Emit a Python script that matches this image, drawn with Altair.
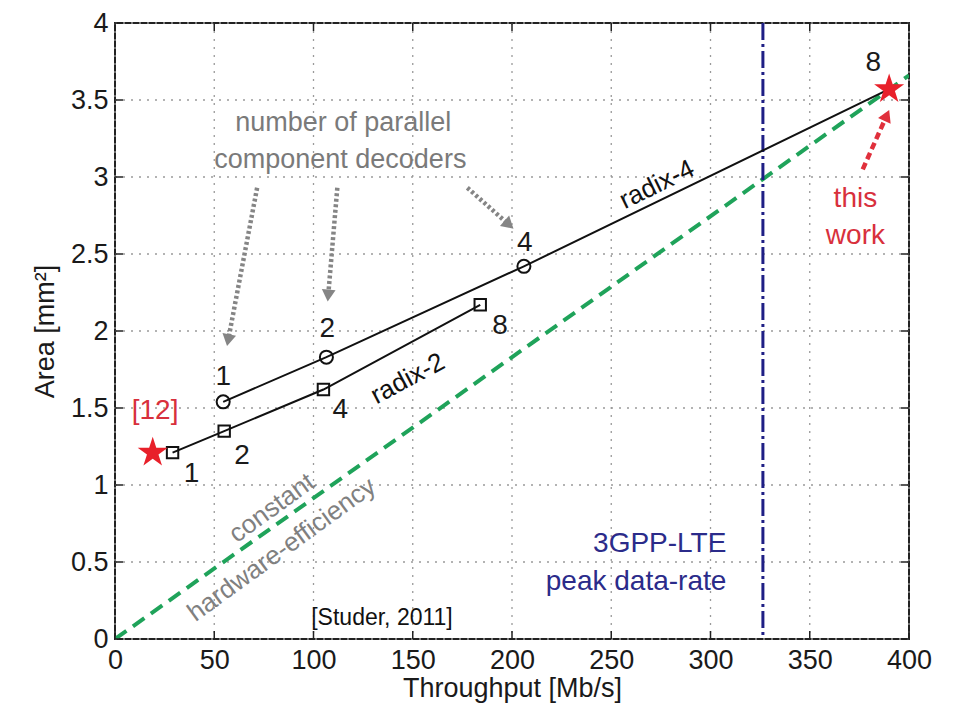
import math
import altair as alt
import pandas as pd

# ---------------- data ----------------
r4_x = [54.5, 106.5, 206.0, 390.0]
r4_y = [1.54, 1.83, 2.42, 3.57]
r4_lab = ["1", "2", "4", "8"]
r4_lab_x = [54.5, 107.0, 206.5, 382.0]
r4_lab_y = [1.70, 2.01, 2.57, 3.74]

r2_x = [29.0, 55.0, 105.0, 184.0]
r2_y = [1.21, 1.35, 1.62, 2.17]
r2_lab = ["1", "2", "4", "8"]
r2_lab_x = [38.5, 64.0, 113.5, 194.0]
r2_lab_y = [1.07, 1.19, 1.49, 2.03]

star_x = [19.0, 390.0]
star_y = [1.21, 3.57]

eff_x = [0, 400]
eff_y = [0, 3.66]

lte_x = [326.4]

x_ticks = [0, 50, 100, 150, 200, 250, 300, 350, 400]
y_ticks = [0, 0.5, 1, 1.5, 2, 2.5, 3, 3.5, 4]

# annotation texts
gray_txt = ["number of parallel", "component decoders"]
gray_txt_x = [115, 113.5]
gray_txt_y = [3.35, 3.11]

rot_txt = ["radix-4", "radix-2", "constant", "hardware-efficiency"]
rot_txt_x = [273, 147.5, 79, 84]
rot_txt_y = [2.95, 1.69, 0.85, 0.58]
rot_txt_angle = [334, 332, 324, 324]
rot_txt_color = ["#111111", "#111111", "#808080", "#808080"]

lte_txt = ["3GPP-LTE", "peak data-rate"]
lte_txt_x = [308, 308]
lte_txt_y = [0.615, 0.37]

red_txt = ["[12]", "this", "work"]
red_txt_x = [20.2, 373, 373]
red_txt_y = [1.48, 2.86, 2.62]

# arrows: start -> end (data units)
arr_x0 = [71.6, 112.0, 177.5]
arr_y0 = [2.93, 2.93, 2.93]
arr_x1 = [57.0, 107.4, 198.5]
arr_y1 = [1.94, 2.23, 2.69]
red_arr_x0 = [376.7]
red_arr_y0 = [3.05]
red_arr_x1 = [388.8]
red_arr_y1 = [3.40]

# ---------------- layout ----------------
W, H = 794, 616
kx, ky = W / 400.0, H / 4.0
FONT = "Liberation Sans"

xs = alt.Scale(domain=[0, 400], nice=False, zero=False)
ys = alt.Scale(domain=[0, 4], nice=False, zero=False)

AX = alt.Axis(
    values=x_ticks, title="Throughput [Mb/s]", grid=False, domain=False,
    ticks=False, labelPadding=8, labelFontSize=27, labelFont=FONT, format="d",
    labelFlush=False, labelOverlap=False,
    labelColor="#1a1a1a", titleFontSize=27, titleFont=FONT,
    titleFontWeight="normal", titleColor="#1a1a1a",
    titleBaseline="alphabetic", titleY=57)
AY = alt.Axis(
    values=y_ticks, title="Area [mm²]", grid=False, domain=False,
    ticks=False, labelPadding=7, labelFontSize=27, labelFont=FONT, format="~g",
    labelFlush=False, labelOverlap=False,
    labelColor="#1a1a1a", titleFontSize=27, titleFont=FONT,
    titleFontWeight="normal", titleColor="#1a1a1a",
    titleBaseline="alphabetic", titleX=-62)


def X(f="x"):
    return alt.X(f"{f}:Q", scale=xs, axis=AX)


def Y(f="y"):
    return alt.Y(f"{f}:Q", scale=ys, axis=AY)


def head_angle(x0, y0, x1, y1):
    sx = (x1 - x0) * kx
    sy = -(y1 - y0) * ky
    return math.degrees(math.atan2(sx, -sy)) % 360


xt = pd.DataFrame({"x": x_ticks})
yt = pd.DataFrame({"y": y_ticks})

# dotted grid
grid_style = dict(color="#9a9a9a", strokeWidth=1.3, strokeDash=[2, 6])
gx = alt.Chart(xt).mark_rule(**grid_style).encode(x=X())
gy = alt.Chart(yt).mark_rule(**grid_style).encode(y=Y())

# inward ticks on four sides
tick_style = dict(color="#222222", strokeWidth=1.5)
t_bottom = alt.Chart(xt).mark_rule(**tick_style).encode(
    x=X(), y=alt.value(H), y2=alt.value(H - 8))
t_top = alt.Chart(xt).mark_rule(**tick_style).encode(
    x=X(), y=alt.value(0), y2=alt.value(8))
t_left = alt.Chart(yt).mark_rule(**tick_style).encode(
    y=Y(), x=alt.value(0), x2=alt.value(8))
t_right = alt.Chart(yt).mark_rule(**tick_style).encode(
    y=Y(), x=alt.value(W), x2=alt.value(W - 8))

# constant efficiency line
eff = alt.Chart(pd.DataFrame({"x": eff_x, "y": eff_y})).mark_line(
    color="#1fa35a", strokeWidth=4, strokeDash=[14, 8], clip=True
).encode(x=X(), y=Y())

# LTE line
lte = alt.Chart(pd.DataFrame({"x": lte_x})).mark_rule(
    color="#1f1f85", strokeWidth=3, strokeDash=[17, 4, 3, 4]
).encode(x=X())

# radix lines
r4_df = pd.DataFrame({"x": r4_x, "y": r4_y})
r2_df = pd.DataFrame({"x": r2_x, "y": r2_y})
r4_line = alt.Chart(r4_df).mark_line(color="#111111", strokeWidth=2).encode(x=X(), y=Y())
r2_line = alt.Chart(r2_df).mark_line(color="#111111", strokeWidth=2).encode(x=X(), y=Y())
r4_pts = alt.Chart(pd.DataFrame({"x": r4_x[:3], "y": r4_y[:3]})).mark_point(
    shape="circle", size=170, filled=False, color="#111111", strokeWidth=2, opacity=1
).encode(x=X(), y=Y())
r2_pts = alt.Chart(r2_df).mark_point(
    shape="square", size=130, filled=False, color="#111111", strokeWidth=2, opacity=1
).encode(x=X(), y=Y())

STAR = ("M0,-1L0.2245,-0.309L0.951,-0.309L0.3633,0.118L0.588,0.809L0,0.382"
        "L-0.588,0.809L-0.3633,0.118L-0.951,-0.309L-0.2245,-0.309Z")
stars = alt.Chart(pd.DataFrame({"x": star_x, "y": star_y})).mark_point(
    shape=STAR, size=1000, filled=True, color="#e8202a", opacity=1
).encode(x=X(), y=Y())

# number labels
lab_df = pd.DataFrame({"x": r4_lab_x + r2_lab_x, "y": r4_lab_y + r2_lab_y,
                       "t": r4_lab + r2_lab})
labels = alt.Chart(lab_df).mark_text(
    font=FONT, fontSize=28, color="#1a1a1a", align="center", baseline="middle"
).encode(x=X(), y=Y(), text="t:N")

gray_df = pd.DataFrame({"x": gray_txt_x, "y": gray_txt_y, "t": gray_txt})
gray = alt.Chart(gray_df).mark_text(
    font=FONT, fontSize=27, color="#7a7a7a", align="center", baseline="middle"
).encode(x=X(), y=Y(), text="t:N")

rot_layers = []
for t, x, y, a, c in zip(rot_txt, rot_txt_x, rot_txt_y, rot_txt_angle, rot_txt_color):
    rot_layers.append(alt.Chart(pd.DataFrame({"x": [x], "y": [y], "t": [t]})).mark_text(
        font=FONT, fontSize=26, color=c, align="center", baseline="middle", angle=a
    ).encode(x=X(), y=Y(), text="t:N"))

lte_df = pd.DataFrame({"x": lte_txt_x, "y": lte_txt_y, "t": lte_txt})
lte_t = alt.Chart(lte_df).mark_text(
    font=FONT, fontSize=28, color="#2b2b8a", align="right", baseline="middle"
).encode(x=X(), y=Y(), text="t:N")

red_df = pd.DataFrame({"x": red_txt_x, "y": red_txt_y, "t": red_txt})
red_t = alt.Chart(red_df).mark_text(
    font=FONT, fontSize=28, color="#d8303c", align="center", baseline="middle"
).encode(x=X(), y=Y(), text="t:N")

studer = alt.Chart(pd.DataFrame({"x": [134.5], "y": [0.135], "t": ["[Studer, 2011]"]})).mark_text(
    font=FONT, fontSize=23, color="#111111", align="center", baseline="middle"
).encode(x=X(), y=Y(), text="t:N")

# arrows
arr_df = pd.DataFrame({"x": arr_x0, "y": arr_y0, "x2": arr_x1, "y2": arr_y1})
arr_lines = alt.Chart(arr_df).mark_rule(
    color="#858585", strokeWidth=4.5, strokeDash=[3, 2.5]
).encode(x=X(), y=Y(), x2="x2:Q", y2="y2:Q")
arr_heads = alt.Chart(pd.DataFrame({
    "x": arr_x1, "y": arr_y1,
    "a": [head_angle(a, b, c, d) for a, b, c, d in zip(arr_x0, arr_y0, arr_x1, arr_y1)]
})).mark_point(shape="triangle-up", size=190, filled=True, color="#858585", opacity=1
               ).encode(x=X(), y=Y(), angle=alt.Angle("a:Q", scale=None))

red_arr_df = pd.DataFrame({"x": red_arr_x0, "y": red_arr_y0, "x2": red_arr_x1, "y2": red_arr_y1})
red_line = alt.Chart(red_arr_df).mark_rule(
    color="#e0303c", strokeWidth=4.5, strokeDash=[7, 4]
).encode(x=X(), y=Y(), x2="x2:Q", y2="y2:Q")
red_head = alt.Chart(pd.DataFrame({
    "x": red_arr_x1, "y": red_arr_y1,
    "a": [head_angle(red_arr_x0[0], red_arr_y0[0], red_arr_x1[0], red_arr_y1[0])]
})).mark_point(shape="triangle-up", size=190, filled=True, color="#e0303c", opacity=1
               ).encode(x=X(), y=Y(), angle=alt.Angle("a:Q", scale=None))

chart = alt.layer(
    gx, gy, eff, lte, r4_line, r2_line, r4_pts, r2_pts, stars,
    t_bottom, t_top, t_left, t_right,
    labels, gray, *rot_layers, lte_t, red_t, studer,
    arr_lines, arr_heads, red_line, red_head,
).properties(
    width=W, height=H,
    autosize=alt.AutoSizeParams(type="none"),
    padding={"left": 107, "top": 15, "right": 30, "bottom": 70},
    background="white",
).configure_view(stroke="#222222", strokeWidth=2)

chart.save("out.html", embed_options={"renderer": "svg", "actions": False})
